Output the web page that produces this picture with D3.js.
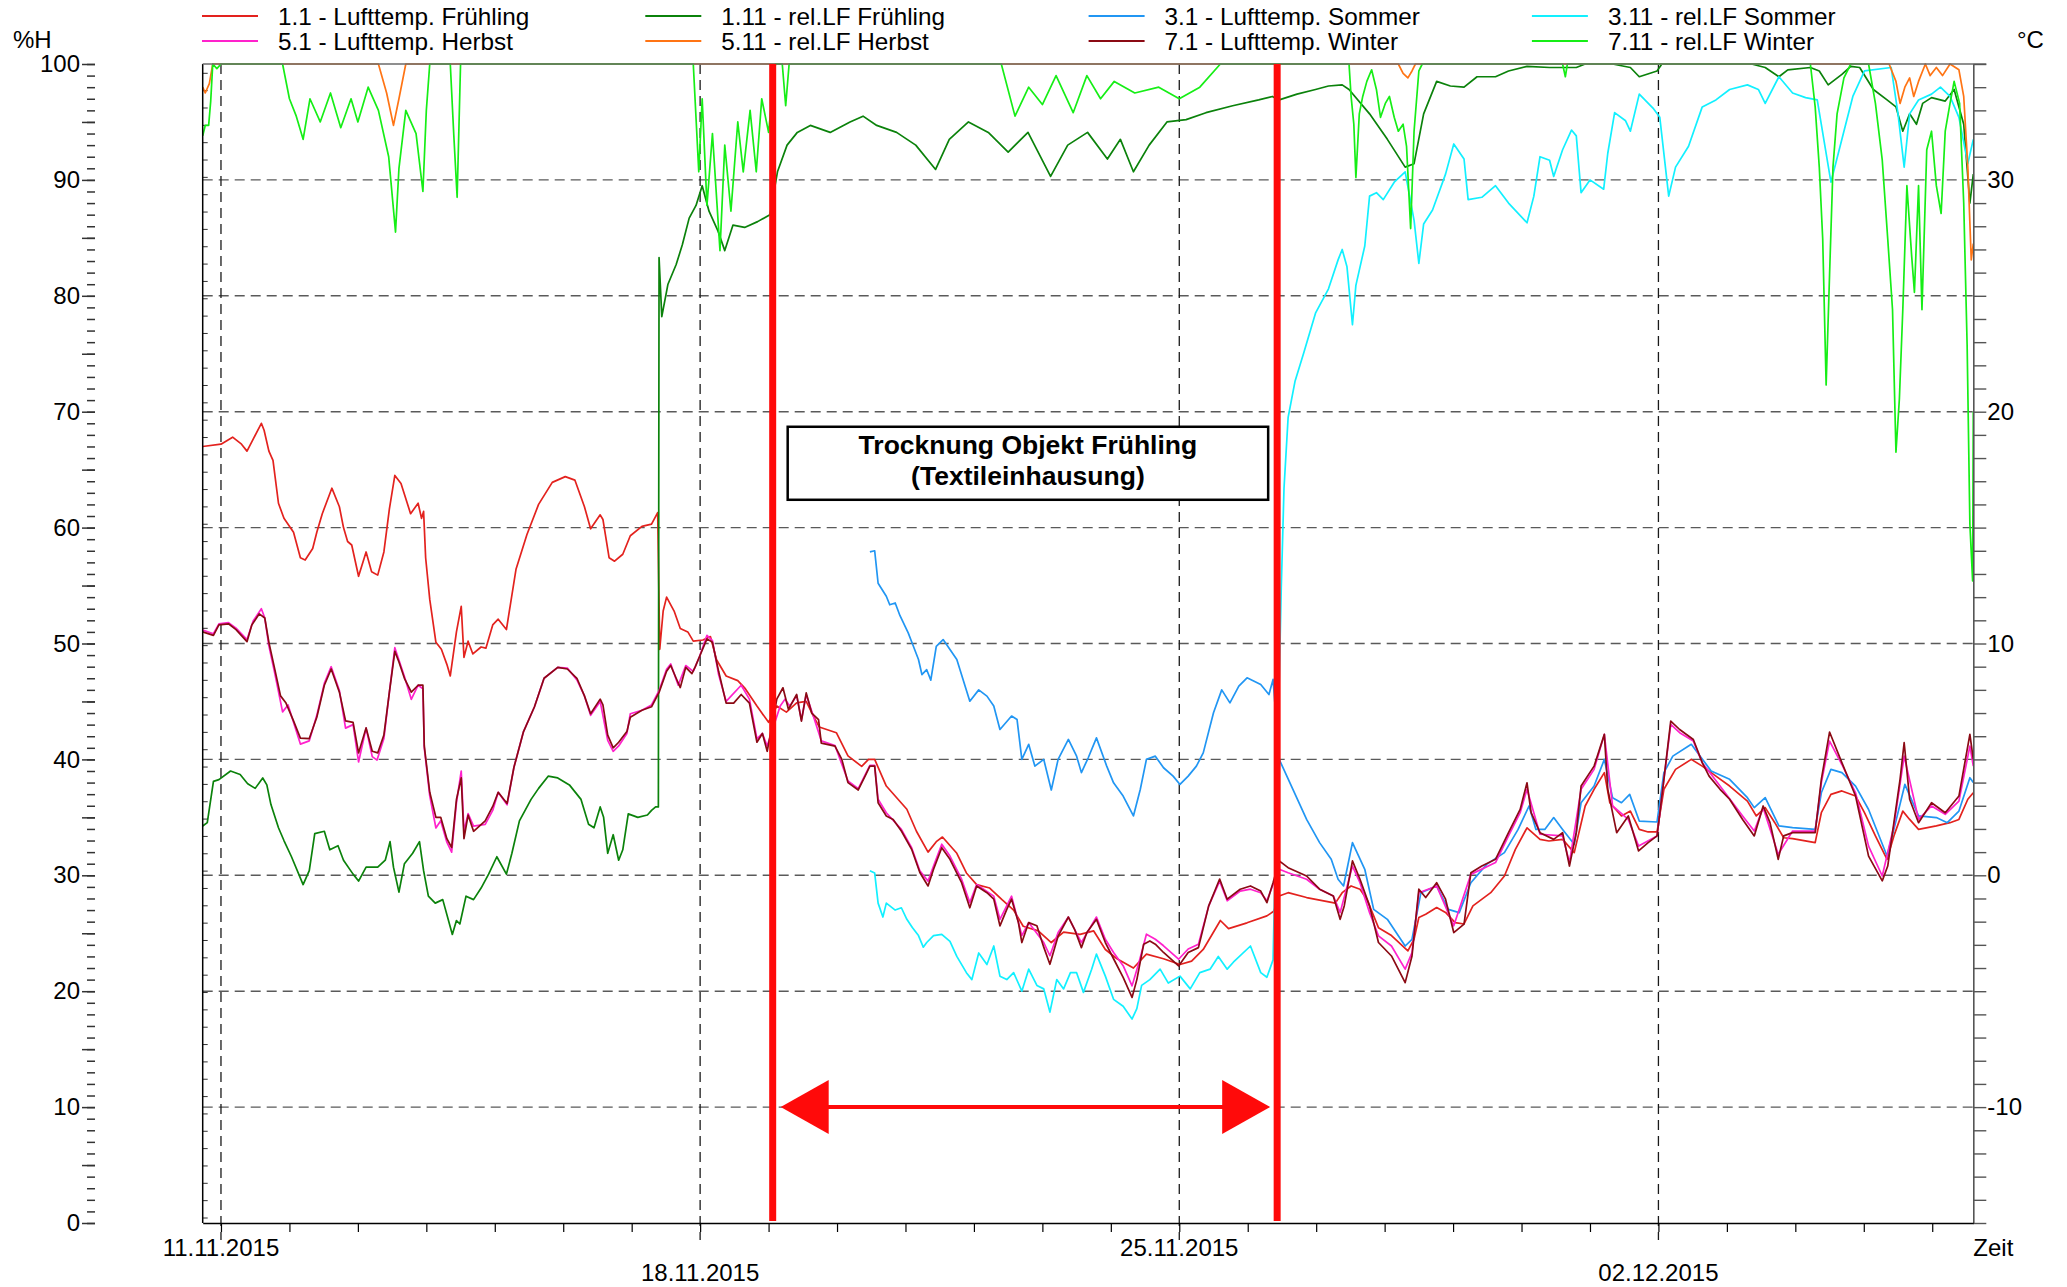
<!DOCTYPE html>
<html><head><meta charset="utf-8">
<script src="https://cdn.jsdelivr.net/npm/d3@7"></script>
<style>
html,body{margin:0;padding:0;background:#fff;}
svg text{font-family:"Liberation Sans",Arial,sans-serif;fill:#000;}
</style></head><body>
<svg id="chart" width="2067" height="1287"></svg>
<script>
// ---------------- DATA ----------------
// time = days since 11.11.2015 00:00
const startDay = "11.11.2015";
const xRangeDays = [-0.267, 25.6];
const dateTickLabels = ["11.11.2015", "18.11.2015", "25.11.2015", "02.12.2015"];
const humTicks = [0, 10, 20, 30, 40, 50, 60, 70, 80, 90, 100];
const tempTicks = [-10, 0, 10, 20, 30];
const markerDays = [8.06, 15.43];
const boxText = ["Trocknung Objekt Frühling", "(Textileinhausung)"];
const boxRangeH = [62.4, 68.7];
const arrowH = 10;

const seriesNames = ["1.1 - Lufttemp. Frühling", "1.11 - rel.LF Frühling", "3.1 - Lufttemp. Sommer", "3.11 - rel.LF Sommer",
  "5.1 - Lufttemp. Herbst", "5.11 - rel.LF Herbst", "7.1 - Lufttemp. Winter", "7.11 - rel.LF Winter"];
const seriesAxis = ["T", "H", "T", "H", "T", "H", "T", "H"];
const seriesColors = ["#e3221e", "#0b820b", "#2196f3", "#12f0ff", "#ff22cc", "#ff7414", "#8b0a14", "#16ee16"];

// 1.1 Lufttemp. Frühling (°C)
const s1_1 = [[-0.267,18.5],[0,18.6],[0.17,18.9],[0.3,18.6],[0.38,18.3],[0.45,18.7],[0.59,19.5],[0.63,19.2],[0.7,18.3],[0.76,17.9],[0.84,16.05],[0.92,15.4],[1.06,14.8],[1.16,13.7],[1.23,13.6],[1.34,14.1],[1.4,14.8],[1.48,15.6],[1.62,16.7],[1.73,15.9],[1.79,15.0],[1.85,14.4],[1.91,14.25],[2.01,12.9],[2.12,13.95],[2.2,13.1],[2.29,12.95],[2.38,13.95],[2.46,15.8],[2.54,17.25],[2.63,16.9],[2.77,15.6],[2.88,16.05],[2.93,15.4],[2.96,15.7],[2.99,13.7],[3.05,11.9],[3.14,10.05],[3.22,9.75],[3.3,9.1],[3.35,8.6],[3.44,10.5],[3.51,11.6],[3.55,9.4],[3.61,10.1],[3.68,9.55],[3.8,9.85],[3.87,9.8],[3.97,10.8],[4.05,11.05],[4.17,10.6],[4.31,13.2],[4.47,14.7],[4.64,16.0],[4.84,16.95],[5.03,17.2],[5.17,17.05],[5.31,15.9],[5.4,14.95],[5.54,15.55],[5.58,15.35],[5.67,13.7],[5.75,13.55],[5.87,13.85],[5.98,14.65],[6.15,15.05],[6.29,15.15],[6.38,15.65],[6.41,9.75],[6.46,11.4],[6.51,12.0],[6.62,11.4],[6.71,10.65],[6.82,10.5],[6.9,10.1],[7.04,10.15],[7.15,10.3],[7.24,9.3],[7.38,8.6],[7.55,8.4],[7.66,8.05],[7.83,7.3],[8.0,6.6],[8.12,7.3],[8.26,7.04],[8.41,7.44],[8.55,7.5],[8.65,6.9],[8.74,6.4],[8.99,6.15],[9.16,5.15],[9.36,4.7],[9.46,5.0],[9.55,5.0],[9.72,3.85],[10.02,2.85],[10.16,1.9],[10.33,1.0],[10.45,1.45],[10.54,1.65],[10.75,0.95],[10.89,0.1],[11.04,-0.4],[11.23,-0.55],[11.41,-1.05],[11.58,-1.5],[11.72,-2.2],[11.94,-2.4],[12.13,-2.9],[12.31,-2.45],[12.55,-2.55],[12.75,-2.4],[12.92,-3.2],[13.09,-3.6],[13.33,-4.0],[13.52,-3.4],[13.77,-3.6],[14.01,-3.85],[14.18,-3.7],[14.35,-3.2],[14.6,-1.95],[14.72,-2.3],[14.99,-2.05],[15.28,-1.75],[15.38,-1.55],[15.46,-0.89],[15.59,-0.75],[15.86,-0.96],[16.28,-1.2],[16.38,-0.75],[16.51,-0.46],[16.64,-0.6],[16.74,-1.03],[16.91,-2.26],[17.1,-2.6],[17.34,-3.26],[17.43,-2.75],[17.5,-1.82],[17.6,-1.68],[17.76,-1.39],[17.89,-1.6],[18.03,-2.04],[18.16,-2.1],[18.29,-1.32],[18.55,-0.75],[18.75,-0.03],[18.91,1.12],[19.08,2.05],[19.27,1.55],[19.4,1.48],[19.6,1.55],[19.77,0.98],[19.93,2.99],[20.06,3.71],[20.21,4.43],[20.29,3.13],[20.46,2.56],[20.59,2.77],[20.72,1.98],[20.85,1.87],[20.98,1.87],[21.08,3.71],[21.25,4.57],[21.48,5.0],[21.64,4.71],[21.84,4.28],[22.04,3.85],[22.3,3.2],[22.43,2.56],[22.56,2.92],[22.7,2.27],[22.83,1.62],[22.96,1.58],[23.29,1.41],[23.38,2.7],[23.52,3.49],[23.68,3.64],[23.88,3.42],[24.01,2.7],[24.17,1.7],[24.34,0.69],[24.44,1.7],[24.57,2.77],[24.67,2.41],[24.8,1.98],[25.06,2.13],[25.26,2.27],[25.39,2.41],[25.52,3.28],[25.6,3.56]];

// 1.11 rel.LF Frühling (%H)
const s1_11 = [[-0.267,34.25],[-0.2,34.55],[-0.11,38.1],[-0.03,38.25],[0.14,39.0],[0.28,38.7],[0.39,37.9],[0.5,37.5],[0.61,38.4],[0.67,37.8],[0.73,36.1],[0.84,34.1],[0.92,33.0],[1.03,31.6],[1.2,29.2],[1.29,30.4],[1.37,33.6],[1.51,33.8],[1.59,32.2],[1.71,32.55],[1.79,31.3],[1.93,30.1],[2.01,29.5],[2.12,30.7],[2.29,30.7],[2.4,31.3],[2.47,32.9],[2.52,30.7],[2.6,28.55],[2.68,31.0],[2.8,31.9],[2.9,32.9],[2.96,30.4],[3.03,28.2],[3.13,27.6],[3.24,27.9],[3.38,24.9],[3.44,26.1],[3.49,25.8],[3.58,28.2],[3.69,27.9],[3.8,28.9],[3.91,30.1],[4.03,31.6],[4.17,30.1],[4.25,31.9],[4.36,34.7],[4.53,36.55],[4.64,37.5],[4.78,38.55],[4.92,38.4],[5.09,37.8],[5.26,36.55],[5.37,34.4],[5.45,34.1],[5.54,35.9],[5.59,35.0],[5.65,31.9],[5.73,33.5],[5.81,31.3],[5.87,32.2],[5.95,35.3],[6.09,35.0],[6.23,35.2],[6.29,35.6],[6.35,35.9],[6.39,35.9],[6.4,83.3],[6.44,78.2],[6.53,81.0],[6.65,82.7],[6.74,84.4],[6.84,86.7],[6.94,87.8],[7.03,89.5],[7.13,87.3],[7.26,85.6],[7.36,83.9],[7.48,86.1],[7.65,85.9],[7.84,86.4],[8.02,87.0],[8.13,90.7],[8.27,93.0],[8.42,94.1],[8.61,94.7],[8.9,94.1],[9.19,95.0],[9.38,95.5],[9.58,94.7],[9.87,94.1],[10.15,93.0],[10.44,90.9],[10.64,93.5],[10.92,95.0],[11.21,94.1],[11.5,92.4],[11.79,94.1],[12.12,90.3],[12.37,93.0],[12.66,94.1],[12.95,91.8],[13.14,93.5],[13.33,90.7],[13.56,93.0],[13.82,95.0],[14.1,95.2],[14.39,95.8],[14.78,96.4],[15.16,96.9],[15.36,97.2],[15.46,96.9],[15.72,97.4],[15.99,97.8],[16.18,98.1],[16.38,98.2],[16.48,97.8],[16.78,95.7],[17.04,93.5],[17.3,91.1],[17.43,91.4],[17.57,95.7],[17.76,98.5],[17.96,98.1],[18.16,98.0],[18.35,98.9],[18.62,98.9],[18.81,99.4],[19.08,99.8],[19.41,99.7],[19.8,99.7],[19.93,100],[20.33,100],[20.59,99.7],[20.72,98.9],[20.98,99.4],[21.05,100],[22.36,100],[22.56,99.7],[22.76,98.9],[22.89,99.5],[23.22,99.7],[23.35,99.4],[23.48,98.2],[23.68,99.1],[23.81,99.8],[23.94,99.7],[24.14,97.8],[24.34,96.9],[24.47,96.3],[24.57,94.2],[24.67,95.7],[24.77,94.8],[24.86,96.6],[24.99,97.1],[25.19,96.8],[25.32,97.8],[25.46,94.8],[25.55,88.0],[25.6,90.5]];

// 3.1 Lufttemp. Sommer (°C)
const s3_1 = [[9.48,13.95],[9.55,14.0],[9.6,12.6],[9.72,12.04],[9.77,11.67],[9.85,11.75],[9.92,11.2],[10.04,10.46],[10.1,10.0],[10.19,9.31],[10.24,8.66],[10.31,8.87],[10.37,8.42],[10.45,9.88],[10.55,10.17],[10.75,9.31],[10.94,7.51],[11.07,8.0],[11.19,7.73],[11.29,7.3],[11.38,6.29],[11.55,6.87],[11.63,6.72],[11.7,5.0],[11.8,5.65],[11.89,4.71],[12.02,5.0],[12.13,3.68],[12.23,5.0],[12.38,5.86],[12.5,5.14],[12.57,4.43],[12.67,5.07],[12.79,5.93],[12.94,4.71],[13.04,3.99],[13.18,3.42],[13.33,2.56],[13.43,3.7],[13.52,5.0],[13.65,5.14],[13.77,4.64],[13.91,4.28],[14.01,3.92],[14.13,4.28],[14.25,4.71],[14.35,5.28],[14.5,7.01],[14.62,8.0],[14.74,7.44],[14.87,8.16],[14.99,8.52],[15.19,8.23],[15.31,7.8],[15.37,8.45],[15.46,5.0],[15.66,3.71],[15.86,2.41],[16.05,1.41],[16.22,0.69],[16.32,-0.17],[16.4,-0.46],[16.53,1.41],[16.71,0.26],[16.84,-1.47],[17.04,-1.9],[17.3,-3.05],[17.4,-2.76],[17.53,-0.75],[17.76,-0.46],[17.93,-1.47],[18.09,-1.61],[18.26,-0.32],[18.49,0.47],[18.75,0.98],[18.95,1.98],[19.11,2.99],[19.21,1.98],[19.34,1.98],[19.47,2.49],[19.6,1.98],[19.77,1.34],[19.87,3.13],[20.06,3.85],[20.21,5.0],[20.33,3.35],[20.46,3.13],[20.58,3.49],[20.72,2.34],[20.98,2.3],[21.08,4.43],[21.21,5.14],[21.48,5.65],[21.61,5.14],[21.77,4.5],[22.04,4.14],[22.3,3.35],[22.4,2.92],[22.56,3.35],[22.76,2.13],[22.96,2.06],[23.29,1.98],[23.38,3.56],[23.52,4.57],[23.68,4.43],[23.88,3.85],[24.07,2.84],[24.34,0.83],[24.44,1.98],[24.6,3.92],[24.8,2.56],[25.06,2.49],[25.22,2.27],[25.39,2.77],[25.55,4.21],[25.6,4.0]];

// 3.11 rel.LF Sommer (%H)
const s3_11 = [[9.48,30.4],[9.55,30.2],[9.6,27.6],[9.67,26.4],[9.72,27.6],[9.85,27.0],[9.94,27.2],[10.02,26.2],[10.1,25.5],[10.19,24.8],[10.26,23.8],[10.31,24.2],[10.41,24.8],[10.53,24.9],[10.65,24.3],[10.75,23.0],[10.89,21.6],[10.97,21.0],[11.07,23.3],[11.19,22.3],[11.29,23.9],[11.38,21.3],[11.48,21.0],[11.58,21.6],[11.7,20.0],[11.8,21.9],[11.92,20.5],[12.02,20.2],[12.11,18.2],[12.21,21.0],[12.31,20.2],[12.41,21.6],[12.5,21.6],[12.6,19.9],[12.72,21.9],[12.79,23.2],[12.92,21.3],[13.04,19.3],[13.18,18.7],[13.31,17.6],[13.38,18.5],[13.45,20.5],[13.57,21.0],[13.72,21.9],[13.84,20.7],[14.01,21.3],[14.16,20.2],[14.3,21.6],[14.45,21.9],[14.57,23.0],[14.7,21.9],[14.79,22.5],[15.04,23.9],[15.19,21.6],[15.28,21.2],[15.37,22.7],[15.49,54.8],[15.53,63.4],[15.59,69.5],[15.69,72.6],[15.82,75.1],[15.99,78.5],[16.18,80.6],[16.32,83.1],[16.38,84.0],[16.45,82.5],[16.53,77.5],[16.58,80.9],[16.71,84.3],[16.78,88.6],[16.88,88.9],[16.98,88.3],[17.14,89.8],[17.3,90.7],[17.43,86.5],[17.5,82.8],[17.57,86.2],[17.7,87.4],[17.89,90.5],[18.01,93.1],[18.16,91.8],[18.22,88.3],[18.42,88.5],[18.62,89.5],[18.81,88.0],[19.08,86.3],[19.18,88.6],[19.27,92.0],[19.41,91.7],[19.47,90.3],[19.6,92.6],[19.73,94.3],[19.8,93.8],[19.87,88.9],[20.0,90.0],[20.2,89.2],[20.26,92.3],[20.36,95.8],[20.52,95.1],[20.59,94.2],[20.72,97.4],[20.92,96.2],[21.02,95.4],[21.15,88.6],[21.25,91.1],[21.44,92.9],[21.64,96.3],[21.84,96.9],[22.04,97.8],[22.3,98.2],[22.46,97.8],[22.56,96.6],[22.76,98.9],[22.96,97.5],[23.15,97.1],[23.32,96.9],[23.52,89.8],[23.71,94.2],[23.84,97.2],[24.01,99.4],[24.4,99.7],[24.5,95.7],[24.59,91.1],[24.67,95.7],[24.8,96.9],[24.99,97.4],[25.12,98.0],[25.26,97.2],[25.39,95.4],[25.52,91.4],[25.6,93.5]];

// 5.1 Lufttemp. Herbst (°C)
const s5_1 = [[-0.267,10.58],[-0.11,10.42],[-0.03,10.85],[0.11,10.9],[0.22,10.66],[0.38,10.17],[0.47,10.97],[0.59,11.5],[0.64,11.1],[0.7,9.9],[0.78,8.8],[0.9,7.05],[0.98,7.35],[1.06,6.6],[1.16,5.66],[1.29,5.8],[1.4,6.9],[1.51,8.28],[1.61,9.0],[1.73,7.97],[1.82,6.35],[1.93,6.5],[2.01,4.89],[2.12,6.35],[2.21,5.12],[2.28,4.97],[2.38,5.9],[2.46,7.89],[2.54,9.82],[2.68,8.58],[2.78,7.59],[2.88,8.2],[2.95,8.05],[2.97,5.5],[3.05,3.43],[3.14,2.04],[3.21,2.35],[3.3,1.43],[3.37,1.0],[3.44,3.12],[3.51,4.5],[3.55,1.9],[3.61,2.66],[3.69,2.12],[3.86,2.2],[3.97,2.8],[4.05,3.58],[4.18,3.04],[4.28,4.66],[4.42,6.2],[4.58,7.27],[4.72,8.5],[4.92,8.97],[5.06,8.94],[5.2,8.43],[5.31,7.74],[5.4,6.9],[5.54,7.5],[5.65,5.82],[5.73,5.35],[5.81,5.58],[5.93,6.12],[5.98,6.97],[6.15,7.12],[6.29,7.35],[6.4,7.97],[6.51,8.89],[6.57,9.12],[6.68,8.2],[6.79,9.05],[6.9,8.8],[6.99,9.43],[7.1,10.35],[7.18,10.12],[7.27,8.66],[7.38,7.5],[7.6,8.2],[7.72,7.6],[7.83,5.89],[7.91,6.12],[7.98,5.58],[8.17,7.3],[8.24,7.6],[8.31,7.3],[8.41,7.76],[8.48,6.7],[8.55,7.8],[8.65,6.9],[8.77,5.8],[8.97,5.6],[9.16,4.07],[9.31,3.74],[9.48,4.74],[9.55,4.74],[9.6,3.28],[9.72,2.7],[9.94,1.98],[10.09,1.19],[10.21,0.19],[10.33,-0.25],[10.41,0.4],[10.53,1.34],[10.65,0.83],[10.82,-0.17],[10.94,-1.18],[11.04,-0.4],[11.29,-0.9],[11.38,-1.9],[11.55,-0.9],[11.7,-2.6],[11.8,-2.04],[12.02,-2.9],[12.11,-3.47],[12.23,-2.47],[12.38,-1.8],[12.57,-2.9],[12.79,-1.8],[12.92,-2.76],[13.04,-3.33],[13.18,-3.9],[13.31,-4.77],[13.41,-3.77],[13.52,-2.54],[13.65,-2.76],[13.77,-3.04],[13.99,-3.62],[14.13,-3.18],[14.28,-2.97],[14.43,-1.32],[14.59,-0.25],[14.7,-1.1],[14.89,-0.68],[15.04,-0.6],[15.19,-0.75],[15.28,-1.1],[15.37,-0.39],[15.46,0.26],[15.59,0.11],[15.86,-0.17],[16.05,-0.6],[16.25,-0.89],[16.35,-1.61],[16.53,0.4],[16.64,-0.32],[16.78,-1.61],[16.91,-2.61],[17.1,-3.05],[17.3,-4.05],[17.4,-3.33],[17.5,-0.75],[17.76,-0.46],[18.01,-2.18],[18.26,0.04],[18.62,0.55],[18.81,1.7],[18.98,2.7],[19.08,3.71],[19.27,1.77],[19.6,1.7],[19.7,0.55],[19.87,3.71],[20.06,4.57],[20.21,6.08],[20.33,2.99],[20.56,2.41],[20.71,1.26],[20.98,1.7],[21.08,4.14],[21.18,6.51],[21.31,6.15],[21.51,5.79],[21.64,4.86],[21.9,3.85],[22.23,2.56],[22.4,1.91],[22.53,2.92],[22.75,0.91],[22.96,1.91],[23.29,1.91],[23.38,3.99],[23.5,5.79],[23.68,4.78],[23.88,3.56],[24.07,1.26],[24.27,-0.03],[24.44,2.13],[24.59,5.14],[24.8,2.41],[24.99,2.99],[25.19,2.63],[25.39,3.2],[25.55,5.57],[25.6,4.71]];

// 5.11 rel.LF Herbst (%H)
const s5_11 = [[-0.267,98.0],[-0.23,97.5],[-0.17,98.3],[-0.12,100],[2.3,100],[2.42,97.5],[2.52,94.7],[2.6,97.0],[2.7,100],[17.2,100],[17.27,99.2],[17.34,98.8],[17.4,99.4],[17.45,100],[24.37,100],[24.47,98.5],[24.53,96.6],[24.6,98.0],[24.67,98.8],[24.73,97.2],[24.8,98.5],[24.9,100],[24.97,99.0],[25.06,99.7],[25.15,99.0],[25.26,100],[25.39,99.5],[25.46,97.2],[25.52,91.1],[25.57,83.1],[25.6,84.5]];

// 7.1 Lufttemp. Winter (°C)
const s7_1 = [[-0.267,10.5],[-0.11,10.35],[-0.03,10.8],[0.11,10.85],[0.22,10.6],[0.38,10.08],[0.45,10.8],[0.56,11.28],[0.64,11.1],[0.7,10.05],[0.78,8.97],[0.87,7.74],[0.95,7.43],[1.06,6.66],[1.16,5.92],[1.29,5.9],[1.4,6.82],[1.51,8.2],[1.61,8.9],[1.73,7.9],[1.82,6.66],[1.93,6.6],[2.01,5.28],[2.12,6.36],[2.21,5.35],[2.29,5.28],[2.38,6.05],[2.46,7.89],[2.54,9.66],[2.6,9.2],[2.68,8.5],[2.78,7.9],[2.88,8.2],[2.95,8.2],[2.97,5.58],[3.05,3.58],[3.14,2.5],[3.21,2.5],[3.3,1.58],[3.37,1.2],[3.44,3.27],[3.51,4.2],[3.55,1.58],[3.61,2.6],[3.69,1.9],[3.86,2.35],[3.97,2.97],[4.05,3.58],[4.18,3.1],[4.28,4.66],[4.42,6.2],[4.58,7.27],[4.72,8.5],[4.92,8.97],[5.06,8.9],[5.2,8.5],[5.31,7.74],[5.4,6.97],[5.54,7.6],[5.58,7.35],[5.65,6.05],[5.73,5.5],[5.81,5.74],[5.93,6.2],[5.98,6.82],[6.15,7.12],[6.29,7.27],[6.4,7.89],[6.51,8.8],[6.57,9.05],[6.65,8.5],[6.71,8.1],[6.79,8.97],[6.88,8.7],[6.93,9.0],[6.99,9.43],[7.1,10.2],[7.18,10.05],[7.27,8.8],[7.38,7.43],[7.49,7.43],[7.6,7.8],[7.72,7.43],[7.83,5.74],[7.91,6.12],[7.98,5.35],[8.12,7.6],[8.21,8.09],[8.29,7.16],[8.41,7.8],[8.48,6.65],[8.55,7.87],[8.63,7.0],[8.73,6.72],[8.77,5.7],[8.97,5.57],[9.07,5.0],[9.16,4.0],[9.31,3.68],[9.41,4.28],[9.48,4.71],[9.55,4.71],[9.6,3.13],[9.72,2.56],[9.82,2.41],[9.94,1.91],[10.09,1.12],[10.21,0.12],[10.33,-0.46],[10.41,0.26],[10.53,1.19],[10.65,0.69],[10.82,-0.32],[10.94,-1.4],[11.04,-0.46],[11.19,-0.75],[11.29,-1.03],[11.38,-2.18],[11.48,-1.47],[11.55,-1.03],[11.65,-2.04],[11.7,-2.9],[11.8,-2.04],[11.92,-2.18],[12.02,-3.1],[12.11,-3.84],[12.23,-2.62],[12.38,-1.8],[12.47,-2.33],[12.57,-3.12],[12.65,-2.47],[12.79,-1.9],[12.92,-2.9],[13.04,-3.6],[13.18,-4.4],[13.31,-5.27],[13.38,-4.5],[13.48,-2.97],[13.57,-2.83],[13.65,-2.97],[13.77,-3.33],[13.99,-3.91],[14.13,-3.33],[14.28,-3.12],[14.43,-1.32],[14.59,-0.16],[14.7,-1.03],[14.89,-0.6],[15.04,-0.46],[15.19,-0.68],[15.28,-1.18],[15.37,-0.32],[15.46,0.62],[15.59,0.33],[15.86,-0.03],[16.05,-0.6],[16.25,-0.89],[16.35,-1.9],[16.41,-1.32],[16.53,0.62],[16.64,-0.17],[16.78,-1.32],[16.91,-2.9],[17.1,-3.48],[17.3,-4.63],[17.4,-3.48],[17.5,-0.6],[17.6,-0.96],[17.76,-0.32],[17.89,-1.03],[18.01,-2.47],[18.16,-2.11],[18.26,0.11],[18.42,0.4],[18.62,0.69],[18.81,1.84],[18.98,2.84],[19.08,3.99],[19.14,2.7],[19.27,1.84],[19.47,1.55],[19.6,1.84],[19.7,0.4],[19.8,1.84],[19.87,3.85],[20.06,4.71],[20.21,6.08],[20.26,3.71],[20.39,1.84],[20.56,2.56],[20.71,1.05],[20.85,1.41],[20.98,1.7],[21.08,4.14],[21.18,6.65],[21.31,6.29],[21.51,5.86],[21.64,4.86],[21.74,4.28],[21.9,3.71],[22.04,3.28],[22.23,2.41],[22.4,1.7],[22.53,2.99],[22.63,2.27],[22.75,0.69],[22.83,1.7],[22.96,1.84],[23.29,1.84],[23.38,4.14],[23.5,6.18],[23.68,4.86],[23.88,3.42],[24.07,0.83],[24.27,-0.24],[24.35,0.4],[24.44,2.27],[24.53,4.14],[24.59,5.72],[24.67,3.28],[24.8,2.27],[24.99,3.13],[25.19,2.7],[25.39,3.42],[25.55,6.08],[25.6,5.0]];

// 7.11 rel.LF Winter (%H)
const s7_11 = [[-0.267,93.8],[-0.23,94.7],[-0.18,94.7],[-0.15,96.8],[-0.12,100],[-0.06,99.6],[0.0,100],[0.9,100],[1.0,97],[1.1,95.5],[1.2,93.5],[1.3,97],[1.45,95],[1.6,97.5],[1.75,94.5],[1.9,97],[2.0,95],[2.15,98],[2.3,96],[2.45,92],[2.55,85.5],[2.6,91],[2.7,96],[2.85,94],[2.95,89],[3.0,96],[3.05,100],[3.35,100],[3.4,94],[3.45,88.5],[3.5,100],[6.9,100],[6.98,90.7],[7.03,97],[7.1,87.8],[7.18,94],[7.29,83.9],[7.36,93],[7.45,87.3],[7.55,95],[7.63,90.7],[7.73,96],[7.82,90.7],[7.9,97],[8.0,94.1],[8.1,100],[8.2,100],[8.25,96.4],[8.3,100],[11.4,100],[11.6,95.5],[11.8,98],[12.0,96.5],[12.2,99],[12.45,95.8],[12.65,99],[12.85,97],[13.05,98.5],[13.35,97.5],[13.7,98],[14.0,97],[14.3,98],[14.6,100],[16.48,100],[16.51,97.2],[16.55,94.8],[16.58,90.2],[16.63,95.7],[16.68,97.2],[16.74,98.5],[16.81,99.5],[16.88,97.8],[16.94,95.4],[17.01,96.6],[17.07,97.2],[17.14,95.4],[17.2,94.2],[17.27,94.8],[17.32,92.9],[17.38,85.8],[17.43,94.2],[17.5,99.4],[17.55,100],[19.6,100],[19.64,98.9],[19.67,100],[23.22,100],[23.29,96.3],[23.35,91.1],[23.4,84.9],[23.45,72.3],[23.5,81.8],[23.55,91.1],[23.61,95.7],[23.71,98.8],[23.81,100],[24.07,100],[24.17,96.6],[24.27,91.7],[24.35,84.9],[24.42,78.8],[24.47,66.5],[24.52,71.1],[24.57,78.8],[24.63,89.5],[24.7,83.4],[24.74,80.3],[24.8,89.5],[24.85,78.8],[24.92,92.6],[24.99,94.2],[25.06,89.5],[25.13,87.1],[25.19,94.2],[25.26,96.6],[25.32,98.5],[25.4,96.6],[25.46,88.0],[25.51,75.7],[25.55,60.3],[25.59,55.4],[25.6,70.0]];

const seriesData = [s1_1, s1_11, s3_1, s3_11, s5_1, s5_11, s7_1, s7_11];

// ---------------- CHART ----------------
const svg = d3.select("#chart");
const W = 2067, H = 1287;
const plot = {left: 202.7, right: 1973.3, top: 64, bottom: 1223};
const font = '"Liberation Sans", Arial, sans-serif';

const t0 = d3.utcParse("%d.%m.%Y")(startDay);
const dayToDate = d => new Date(t0.getTime() + d * 864e5);

const x = d3.scaleUtc().domain(xRangeDays.map(dayToDate)).range([plot.left, plot.right]);
const yH = d3.scaleLinear().domain([0, 100]).range([plot.bottom, plot.top]);
const yT = d3.scaleLinear().domain([-15, 35]).range([plot.bottom, plot.top]);

svg.append("rect").attr("width", W).attr("height", H).attr("fill", "#fff");

// horizontal grid (dashed)
svg.append("g").selectAll("line").data(humTicks.filter(v => v > 0 && v < 100)).join("line")
  .attr("x1", plot.left).attr("x2", plot.right)
  .attr("y1", d => yH(d)).attr("y2", d => yH(d))
  .attr("stroke", "#5a5a5a").attr("stroke-width", 1.4).attr("stroke-dasharray", "10,6");

// vertical date grid
const dateTicks = dateTickLabels.map(s => d3.utcParse("%d.%m.%Y")(s));
svg.append("g").selectAll("line").data(dateTicks).join("line")
  .attr("x1", d => x(d)).attr("x2", d => x(d))
  .attr("y1", plot.top).attr("y2", plot.bottom + 17)
  .attr("stroke", "#1a1a1a").attr("stroke-width", 1.3).attr("stroke-dasharray", "10,6");

// inner ticks on left plot edge
const innerScale = d3.scaleLinear().domain([0, 66]).range([plot.bottom - 5, plot.top + 9.3]);
svg.append("g").selectAll("line").data(d3.range(0, 67)).join("line")
  .attr("x1", plot.left).attr("x2", plot.left + 5)
  .attr("y1", d => innerScale(d)).attr("y2", d => innerScale(d))
  .attr("stroke", "#333").attr("stroke-width", 1);

// series lines
svg.append("clipPath").attr("id", "clipP").append("rect")
  .attr("x", plot.left).attr("y", plot.top - 2).attr("width", plot.right - plot.left).attr("height", plot.bottom - plot.top + 2);
const gLines = svg.append("g").attr("clip-path", "url(#clipP)");
seriesData.forEach((data, i) => {
  const ys = seriesAxis[i] === "T" ? yT : yH;
  const line = d3.line().x(d => x(dayToDate(d[0]))).y(d => ys(d[1]));
  gLines.append("path").datum(data).attr("d", line)
    .attr("fill", "none").attr("stroke", seriesColors[i]).attr("stroke-width", 1.7)
    .attr("stroke-linejoin", "round");
});

// frame
svg.append("line").attr("x1", plot.left).attr("x2", plot.left).attr("y1", plot.top).attr("y2", plot.bottom)
  .attr("stroke", "#000").attr("stroke-width", 1.5);
svg.append("line").attr("x1", plot.left).attr("x2", plot.right + 13).attr("y1", plot.top).attr("y2", plot.top)
  .attr("stroke", "#6a6a6a").attr("stroke-width", 1.5);

// left axis (%H), detached
const leftX = 95;
const gL = svg.append("g").attr("transform", `translate(${leftX},0)`);
gL.call(d3.axisLeft(yH).tickValues(d3.range(0, 101, 1)).tickSize(8).tickFormat(""));
gL.call(g => g.select(".domain").remove());
const gL5 = svg.append("g").attr("transform", `translate(${leftX},0)`);
gL5.call(d3.axisLeft(yH).tickValues(d3.range(0, 101, 5)).tickSize(13).tickPadding(2).tickFormat(d => humTicks.includes(d) ? d : ""));
gL5.call(g => g.select(".domain").remove());
[gL, gL5].forEach(g => {
  g.selectAll("line").attr("stroke", "#333").attr("stroke-width", 1.5);
  g.selectAll("text").attr("font-size", 24).attr("font-family", font).attr("fill", "#000");
});

// right axis (°C)
const gR = svg.append("g").attr("transform", `translate(${plot.right},0)`);
gR.call(d3.axisRight(yT).tickValues(d3.range(-15, 36, 1)).tickSize(13).tickSizeOuter(0).tickPadding(1)
  .tickFormat(d => tempTicks.includes(d) ? d : ""));
gR.select(".domain").attr("stroke", "#555").attr("stroke-width", 1.6);
gR.selectAll("line").attr("stroke", "#555").attr("stroke-width", 1.4);
gR.selectAll("text").attr("font-size", 24).attr("font-family", font).attr("fill", "#000");

// bottom axis (days)
const gB = svg.append("g").attr("transform", `translate(0,${plot.bottom})`);
gB.call(d3.axisBottom(x).ticks(d3.utcDay.every(1)).tickSize(9).tickSizeOuter(0).tickFormat(""));
gB.select(".domain").attr("stroke", "#000").attr("stroke-width", 1.6);
gB.selectAll("line").attr("stroke", "#000").attr("stroke-width", 1.2);

// date labels (alternating rows)
svg.append("g").selectAll("text").data(dateTicks).join("text")
  .attr("x", d => x(d)).attr("y", (d, i) => i % 2 === 0 ? 1248 : 1273).attr("dy", "0.35em")
  .attr("text-anchor", "middle").attr("font-size", 24).attr("font-family", font)
  .text((d, i) => dateTickLabels[i]);
svg.append("text").attr("x", plot.right).attr("y", 1248).attr("dy", "0.35em")
  .attr("font-size", 24).attr("font-family", font).text("Zeit");

// unit labels
svg.append("text").attr("x", 13).attr("y", 40).attr("dy", "0.35em").attr("font-size", 24).attr("font-family", font).text("%H");
svg.append("text").attr("x", 2017).attr("y", 40).attr("dy", "0.35em").attr("font-size", 24).attr("font-family", font).text("°C");

// legend
const legend = svg.append("g");
seriesNames.forEach((name, i) => {
  const col = i % 4, row = Math.floor(i / 4);
  const lx = 202 + col * 443.3, ly = 16 + row * 25;
  legend.append("line").attr("x1", lx).attr("x2", lx + 56).attr("y1", ly).attr("y2", ly)
    .attr("stroke", seriesColors[i]).attr("stroke-width", 2);
  legend.append("text").attr("x", lx + 76).attr("y", ly).attr("dy", "0.35em")
    .attr("font-size", 24.3).attr("font-family", font).text(name);
});

// marker lines (drying period)
const markerDates = markerDays.map(dayToDate);
svg.append("g").selectAll("line").data(markerDates).join("line")
  .attr("x1", d => x(d)).attr("x2", d => x(d))
  .attr("y1", plot.top).attr("y2", plot.bottom - 2)
  .attr("stroke", "#ff0a0a").attr("stroke-width", 7);

// double arrow
const ax1 = x(markerDates[0]) + 8, ax2 = x(markerDates[1]) - 7, ay = yH(arrowH);
const headL = 48, headH = 27;
svg.append("line").attr("x1", ax1 + headL - 4).attr("x2", ax2 - headL + 4).attr("y1", ay).attr("y2", ay)
  .attr("stroke", "#ff0a0a").attr("stroke-width", 4);
svg.append("path").attr("d", `M${ax1},${ay}L${ax1 + headL},${ay - headH}L${ax1 + headL},${ay + headH}Z`).attr("fill", "#ff0a0a");
svg.append("path").attr("d", `M${ax2},${ay}L${ax2 - headL},${ay - headH}L${ax2 - headL},${ay + headH}Z`).attr("fill", "#ff0a0a");

// annotation box
const bx1 = x(markerDates[0]) + 15, bx2 = x(markerDates[1]) - 9;
const by1 = yH(boxRangeH[1]), by2 = yH(boxRangeH[0]);
svg.append("rect").attr("x", bx1).attr("y", by1).attr("width", bx2 - bx1).attr("height", by2 - by1)
  .attr("fill", "#fff").attr("stroke", "#000").attr("stroke-width", 2.5);
boxText.forEach((t, i) => {
  svg.append("text").attr("x", (bx1 + bx2) / 2).attr("y", by1 + 18 + i * 31).attr("dy", "0.35em")
    .attr("text-anchor", "middle").attr("font-size", 26.5).attr("font-weight", "bold").attr("font-family", font).text(t);
});
</script></body></html>
